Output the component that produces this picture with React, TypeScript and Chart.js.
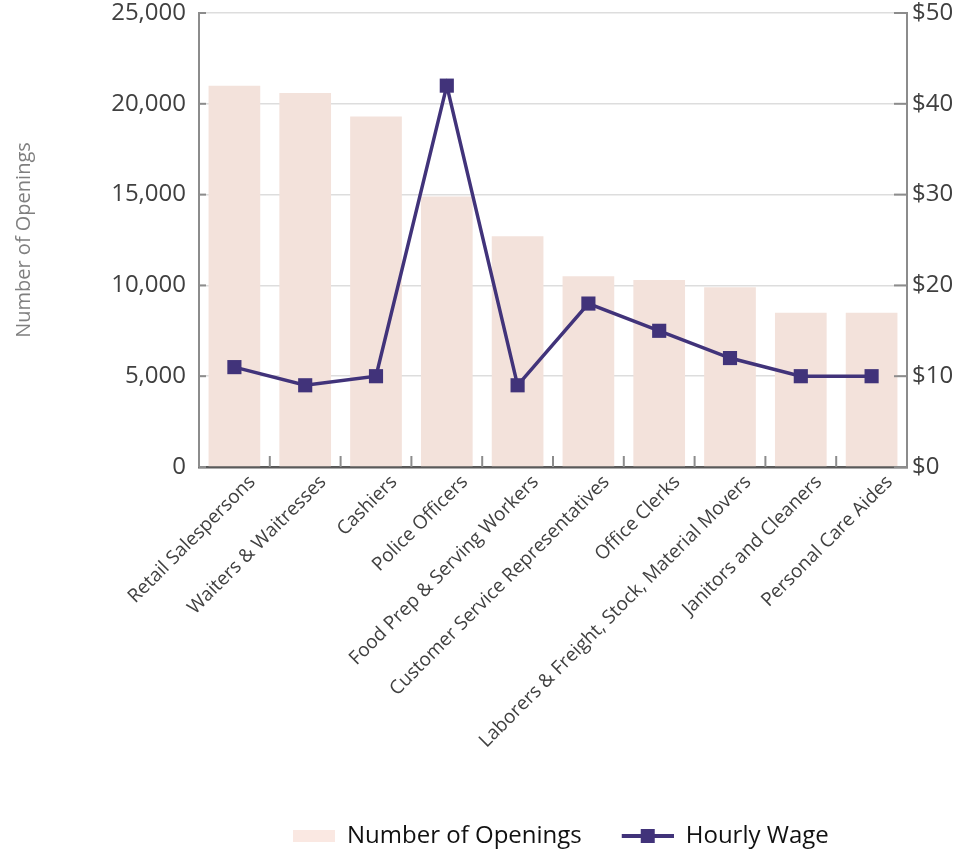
import React, { useEffect, useRef } from "react";
import { Chart, registerables } from "chart.js";

Chart.register(...registerables);

const categories = [
  "Retail Salespersons",
  "Waiters & Waitresses",
  "Cashiers",
  "Police Officers",
  "Food Prep & Serving Workers",
  "Customer Service Representatives",
  "Office Clerks",
  "Laborers & Freight, Stock, Material Movers",
  "Janitors and Cleaners",
  "Personal Care Aides",
];
const openings = [21000, 20600, 19300, 14900, 12700, 10500, 10300, 9900, 8500, 8500];
const hourlyWage = [11, 9, 10, 42, 9, 18, 15, 12, 10, 10];

const BAR = "#F3E2DB";
const LINE = "#41337A";
const FONT = "'Open Sans', sans-serif";

function makeBarIcon(): HTMLCanvasElement {
  const c = document.createElement("canvas");
  c.width = 84;
  c.height = 14;
  const g = c.getContext("2d")!;
  g.fillStyle = "#FAE8E2";
  g.fillRect(42, 1, 42, 12);
  return c;
}
function makeLineIcon(): HTMLCanvasElement {
  const c = document.createElement("canvas");
  c.width = 84;
  c.height = 16;
  const g = c.getContext("2d")!;
  g.strokeStyle = LINE;
  g.lineWidth = 4;
  g.beginPath();
  g.moveTo(32, 8);
  g.lineTo(84, 8);
  g.stroke();
  g.fillStyle = LINE;
  g.fillRect(51, 1, 14, 14);
  return c;
}

const inwardTicks = {
  id: "inwardTicks",
  afterDraw(chart: any) {
    const { ctx, chartArea: a, scales } = chart;
    ctx.save();
    ctx.strokeStyle = "#8c8c8c";
    ctx.lineWidth = 2;
    const seg = (x1: number, y1: number, x2: number, y2: number) => {
      ctx.beginPath();
      ctx.moveTo(x1, y1);
      ctx.lineTo(x2, y2);
      ctx.stroke();
    };
    scales.y.ticks.forEach((_t: any, i: number) => {
      const y = scales.y.getPixelForTick(i);
      seg(a.left, y, a.left + 7, y);
    });
    scales.y1.ticks.forEach((_t: any, i: number) => {
      const y = scales.y1.getPixelForTick(i);
      seg(a.right - 13, y, a.right, y);
    });
    const step = scales.x.getPixelForValue(1) - scales.x.getPixelForValue(0);
    for (let k = 1; k < categories.length; k++) {
      const x = scales.x.getPixelForValue(k) - step / 2;
      seg(x, a.bottom, x, a.bottom - 11);
    }
    ctx.restore();
  },
};

const legendShift = {
  id: "legendShift",
  afterLayout(chart: any) {
    if (chart.legend) {
      chart.legend.left = 243;
      chart.legend.right = 1400;
    }
  },
};

const noVPad = (width: number) => (s: any) => {
  s.width = width;
  s.paddingTop = 0;
  s.paddingBottom = 0;
};

export default function App() {
  const ref = useRef<HTMLCanvasElement | null>(null);
  useEffect(() => {
    if (!ref.current) return;
    const barIcon = makeBarIcon();
    const lineIcon = makeLineIcon();
    const chart = new Chart(ref.current, {
      data: {
        labels: categories,
        datasets: [
          {
            type: "line",
            label: "Hourly Wage",
            data: hourlyWage,
            yAxisID: "y1",
            borderColor: LINE,
            backgroundColor: LINE,
            borderWidth: 3.5,
            pointStyle: "rect",
            pointRadius: 10,
            pointBorderWidth: 0,
            pointBackgroundColor: LINE,
            tension: 0,
            order: 0,
          } as any,
          {
            type: "bar",
            label: "Number of Openings",
            data: openings,
            yAxisID: "y",
            backgroundColor: BAR,
            categoryPercentage: 1,
            barPercentage: 0.73,
            order: 1,
          } as any,
        ],
      },
      options: {
        responsive: false,
        animation: false,
        layout: { padding: { left: 0, right: 0, top: 13, bottom: 0 } },
        plugins: {
          tooltip: { enabled: false },
          legend: {
            position: "bottom",
            align: "start",
            labels: {
              usePointStyle: true,
              pointStyleWidth: 84,
              boxHeight: 14,
              padding: 8,
              color: "#111111",
              font: { family: FONT, size: 24 },
              generateLabels: () => [
                {
                  text: "Number of Openings",
                  pointStyle: barIcon,
                  fillStyle: BAR,
                  strokeStyle: BAR,
                  lineWidth: 0,
                  hidden: false,
                  datasetIndex: 1,
                  fontColor: "#111111",
                } as any,
                {
                  text: "Hourly Wage",
                  pointStyle: lineIcon,
                  fillStyle: LINE,
                  strokeStyle: LINE,
                  lineWidth: 0,
                  hidden: false,
                  datasetIndex: 0,
                  fontColor: "#111111",
                } as any,
              ],
            },
          },
        },
        scales: {
          x: {
            grid: { display: false, drawTicks: false },
            border: { display: true, color: "#5a5a5a", width: 2.5 },
            ticks: {
              autoSkip: false,
              maxRotation: 45,
              minRotation: 45,
              padding: 4,
              labelOffset: 18,
              color: "#404040",
              font: { family: FONT, size: 19 },
            },
            afterFit: (s: any) => {
              s.height = 349;
            },
          },
          y: {
            position: "left",
            min: 0,
            max: 25000,
            grid: { color: "#dddddd", lineWidth: 1.5, drawTicks: false },
            border: { display: true, color: "#8c8c8c", width: 2 },
            ticks: {
              stepSize: 5000,
              padding: 13,
              color: "#404040",
              font: { family: FONT, size: 24 },
              callback: (v: any) => Number(v).toLocaleString("en-US"),
            },
            title: {
              display: true,
              text: "Number of Openings",
              color: "#7f7f7f",
              font: { family: FONT, size: 20 },
              padding: { top: 12, bottom: 0 },
            },
            afterFit: noVPad(199),
          },
          y1: {
            position: "right",
            min: 0,
            max: 50,
            grid: { display: false, drawTicks: false },
            border: { display: true, color: "#8c8c8c", width: 2 },
            ticks: {
              stepSize: 10,
              padding: 5,
              color: "#404040",
              font: { family: FONT, size: 24 },
              callback: (v: any) => "$" + v,
            },
            afterFit: noVPad(59),
          },
        },
      },
      plugins: [inwardTicks, legendShift],
    });
    return () => chart.destroy();
  }, []);
  return (
    <div style={{ position: "absolute", left: 0, top: 0, width: 966, height: 858 }}>
      <canvas ref={ref} width={966} height={858} style={{ display: "block" }} />
    </div>
  );
}
